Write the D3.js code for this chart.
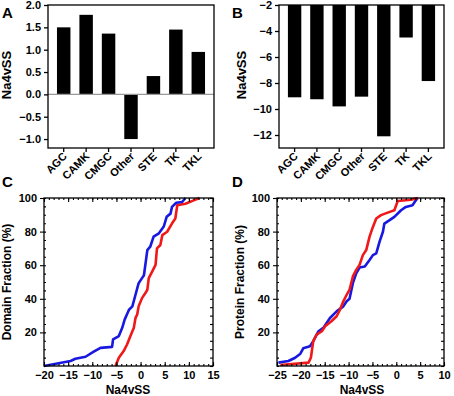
<!DOCTYPE html>
<html>
<head>
<meta charset="utf-8">
<script src="https://cdn.jsdelivr.net/npm/d3@7"></script>
<style>
  body { margin: 0; background: #fff; }
  svg text { font-family: "Liberation Sans", Arial, sans-serif; font-weight: bold; }
</style>
</head>
<body>
<svg id="chart" width="454" height="396"></svg>
<script>
// categories shared by the two bar panels
const families = ["AGC", "CAMK", "CMGC", "Other", "STE", "TK", "TKL"];
const valuesA = [1.5, 1.78, 1.36, -1.0, 0.41, 1.45, 0.95];
const valuesB = [-9.1, -9.25, -9.8, -9.05, -12.1, -4.5, -7.85];

const ticksA = [-1.0, -0.5, 0.0, 0.5, 1.0, 1.5, 2.0];
const ticksB = [-12, -10, -8, -6, -4, -2];
const ticksFrac = [20, 40, 60, 80, 100];

// cumulative curves, [Na4vSS, fraction %]
const domainBlue = [[-20,0],[-14.5,3],[-13.5,4.3],[-11.4,5.5],[-9.7,8.5],[-8.3,10.8],[-5.9,11.4],[-5.7,15.8],
  [-4.5,17.8],[-3.8,22.7],[-3.3,27.6],[-2.4,33.5],[-1.7,35.5],[-1.05,42.4],[-0.4,49.3],[0.3,52.3],[0.7,54],
  [1.4,69],[2.0,71],[2.7,77],[3.8,79],[4.8,83],[5.4,88.8],[6.2,90.7],[6.5,94.7],[7.4,97.2],[8.6,97.6],[9.3,100]];
const domainRed = [[-5.2,0],[-4.5,4.9],[-3.5,8.9],[-2.8,12.8],[-2.1,17.8],[-1.7,20.7],[-1.4,22.7],[-1.05,28.6],
  [-0.7,30.6],[-0.4,35.5],[0.3,40.4],[1.0,43.4],[1.4,45.4],[1.7,52.3],[2.4,56.2],[3.1,60.2],[3.4,70],[4.1,72],
  [4.5,77.9],[5.5,79.9],[6.5,84.8],[7.2,87.8],[7.6,95.7],[9.3,96.6],[11.0,98.6],[12.2,100]];
const proteinBlue = [[-24.7,2],[-22.6,3],[-21.2,4.9],[-20.1,7.3],[-19.5,10.5],[-18.1,11.8],[-17.4,14.8],[-16.3,20.7],
  [-15.3,22.7],[-13.9,28.6],[-12.5,32.5],[-11.1,35.5],[-10.4,38.5],[-9.8,40],[-9.1,49.3],[-8.4,55.2],[-7.7,58.6],
  [-6.6,59.2],[-5.6,63.1],[-4.9,66],[-4.2,67],[-3.5,74],[-2.8,79.9],[-2.5,84.8],[-1.4,86.8],[-0.4,88.8],[1.0,92.7],
  [2.0,94.7],[3.4,95.7],[4.1,98.6],[4.5,100]];
const proteinRed = [[-24.3,0.6],[-18.4,2],[-17.9,4.9],[-17.4,14.8],[-16.7,18.7],[-15.6,20.7],[-14.9,23.7],[-13.6,26.6],
  [-12.5,29.6],[-11.8,33.5],[-11.1,38.5],[-10.4,42.4],[-9.8,45.4],[-9.1,53.3],[-8.4,57.2],[-7.7,60.2],[-7.0,66],
  [-6.3,69],[-5.6,77],[-4.9,82.8],[-4.2,87.8],[-3.2,89.8],[-1.8,91.3],[-0.4,92.7],[0.3,98.2],[3.1,99],[4.5,100]];

const svg = d3.select("#chart");

function letter(t, x, y) {
  svg.append("text").attr("x", x).attr("y", y).attr("font-size", 15).text(t);
}
function yLabel(t, x, y, size) {
  svg.append("text").attr("transform", `translate(${x},${y}) rotate(-90)`)
    .attr("text-anchor", "middle").attr("font-size", size).text(t);
}

// bar panel
function barPanel(opt) {
  const x = d3.scaleBand().domain(families).range([opt.left, opt.right]).padding(0.4);
  const y = d3.scaleLinear().domain(opt.domain).range([148, 5]);
  const g = svg.append("g");

  g.selectAll("rect").data(opt.values).enter().append("rect")
    .attr("x", (d, i) => x(families[i]))
    .attr("width", x.bandwidth())
    .attr("y", d => Math.min(y(d), y(opt.base)))
    .attr("height", d => Math.abs(y(d) - y(opt.base)))
    .attr("fill", "#000");

  if (opt.zeroLine) {
    g.append("line").attr("x1", opt.left).attr("x2", opt.right)
      .attr("y1", y(0)).attr("y2", y(0)).attr("stroke", "#999").attr("stroke-width", 1.2);
  }

  g.append("rect").attr("x", opt.left).attr("y", 5).attr("width", opt.right - opt.left).attr("height", 143)
    .attr("fill", "none").attr("stroke", "#000").attr("stroke-width", 1.3);

  const ya = g.append("g").attr("transform", `translate(${opt.left},0)`)
    .call(d3.axisLeft(y).tickValues(opt.ticks).tickFormat(opt.fmt).tickSize(4).tickPadding(3));
  ya.select(".domain").remove();
  ya.selectAll("line").attr("stroke-width", 1.3);
  ya.selectAll("text").attr("font-size", 11).attr("font-family", "Liberation Sans, Arial").attr("font-weight", "bold");

  const xa = g.append("g").attr("transform", "translate(0,148)")
    .call(d3.axisBottom(x).tickSize(4));
  xa.select(".domain").remove();
  xa.selectAll("line").attr("stroke-width", 1.3);
  xa.selectAll("text").attr("font-size", 11).attr("font-family", "Liberation Sans, Arial").attr("font-weight", "bold")
    .attr("text-anchor", "end").attr("dy", null).attr("y", 0)
    .attr("transform", "translate(4,9) rotate(-45)");
}

barPanel({ left: 48, right: 214, domain: [-1.2, 2.0], values: valuesA, base: 0, ticks: ticksA,
  fmt: d3.format(".1f"), zeroLine: true });
barPanel({ left: 279, right: 444, domain: [-13, -2], values: valuesB, base: -2, ticks: ticksB,
  fmt: d3.format("d"), zeroLine: false });

// cumulative panel
function cdfPanel(opt) {
  const x = d3.scaleLinear().domain(opt.domain).range([opt.left, opt.right]);
  const y = d3.scaleLinear().domain([0, 100]).range([366, 198]);
  const g = svg.append("g");

  const line = d3.line().x(d => x(d[0])).y(d => y(d[1]));
  opt.series.forEach(s => {
    g.append("path").datum(s.data).attr("d", line).attr("fill", "none")
      .attr("stroke", s.color).attr("stroke-width", 2.6).attr("stroke-linejoin", "round");
  });

  g.append("rect").attr("x", opt.left).attr("y", 198).attr("width", opt.right - opt.left).attr("height", 168)
    .attr("fill", "none").attr("stroke", "#000").attr("stroke-width", 1.3);

  const minorX = d3.range(opt.domain[0], opt.domain[1] + 1, 1);
  const majorX = d3.range(opt.domain[0], opt.domain[1] + 1, 5);
  const minorY = d3.range(0, 101, 5);

  // bottom: inside minor ticks, labels below
  const xb = g.append("g").attr("transform", "translate(0,366)")
    .call(d3.axisBottom(x).tickValues(minorX).tickSize(-2).tickFormat(""));
  xb.select(".domain").remove();
  const xbm = g.append("g").attr("transform", "translate(0,366)")
    .call(d3.axisBottom(x).tickValues(majorX).tickSize(-4).tickPadding(5).tickFormat(d3.format("d")));
  xbm.select(".domain").remove();
  xbm.selectAll("text").attr("font-size", 11).attr("font-family", "Liberation Sans, Arial").attr("font-weight", "bold");

  // top: inside ticks
  const xt = g.append("g").attr("transform", "translate(0,198)")
    .call(d3.axisTop(x).tickValues(minorX).tickSize(-2).tickFormat(""));
  xt.select(".domain").remove();
  const xtm = g.append("g").attr("transform", "translate(0,198)")
    .call(d3.axisTop(x).tickValues(majorX).tickSize(-4).tickFormat(""));
  xtm.select(".domain").remove();

  // left: outward major, inward minor
  const yl = g.append("g").attr("transform", `translate(${opt.left},0)`)
    .call(d3.axisLeft(y).tickValues(ticksFrac).tickSize(4).tickPadding(3).tickFormat(d3.format("d")));
  yl.select(".domain").remove();
  yl.selectAll("text").attr("font-size", 11).attr("font-family", "Liberation Sans, Arial").attr("font-weight", "bold");
  const ylm = g.append("g").attr("transform", `translate(${opt.left},0)`)
    .call(d3.axisLeft(y).tickValues(minorY).tickSize(-2).tickFormat(""));
  ylm.select(".domain").remove();

  // right: inward
  const yr = g.append("g").attr("transform", `translate(${opt.right},0)`)
    .call(d3.axisRight(y).tickValues(minorY).tickSize(-3).tickFormat(""));
  yr.select(".domain").remove();

  g.selectAll(".tick line").attr("stroke-width", 1.1);
}

cdfPanel({ left: 44, right: 213, domain: [-20, 15],
  series: [{ data: domainRed, color: "#f01818" }, { data: domainBlue, color: "#1818e0" }] });
cdfPanel({ left: 277, right: 444, domain: [-25, 10],
  series: [{ data: proteinBlue, color: "#1818e0" }, { data: proteinRed, color: "#f01818" }] });

// labels
letter("A", 2, 18);
letter("B", 232, 18);
letter("C", 2, 187);
letter("D", 232, 187);
yLabel("Na4vSS", 11, 75, 13);
yLabel("Na4vSS", 246, 75, 13);
yLabel("Domain Fraction (%)", 11, 282, 12);
yLabel("Protein Fraction (%)", 244, 282, 12);
svg.append("text").attr("x", 128).attr("y", 394).attr("text-anchor", "middle").attr("font-size", 12).text("Na4vSS");
svg.append("text").attr("x", 362).attr("y", 394).attr("text-anchor", "middle").attr("font-size", 12).text("Na4vSS");
</script>
</body>
</html>
